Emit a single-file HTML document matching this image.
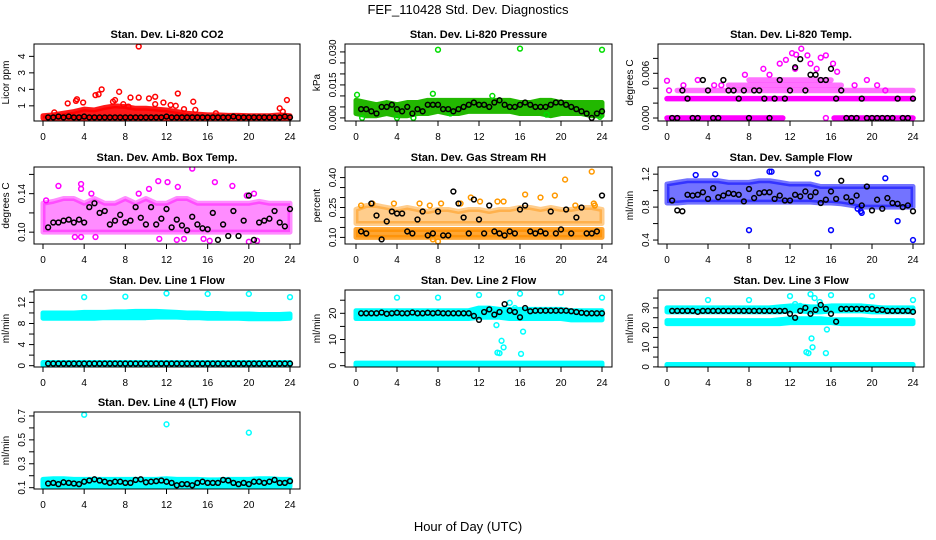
<!DOCTYPE html>
<html><head><meta charset="utf-8"><style>
html,body{margin:0;padding:0;background:#fff}
svg{display:block;font-family:"Liberation Sans",Arial,sans-serif}
</style></head><body>
<svg id="fig" width="936" height="540" viewBox="0 0 936 540">
<text x="468" y="14" text-anchor="middle" font-size="13">FEF_110428  Std. Dev. Diagnostics</text>
<text x="468" y="531" text-anchor="middle" font-size="13">Hour of Day (UTC)</text>
</svg>
<script>
// ---- shared categories ----
const xTicks = [0,4,8,12,16,20,24];
const hourGrid = [0,1,2,3,4,5,6,7,8,9,10,11,12,13,14,15,16,17,18,19,20,21,22,23,24];
const blackHours = [0.5,1,1.5,2,2.5,3,3.5,4,4.5,5,5.5,6,6.5,7,7.5,8,8.5,9,9.5,10,10.5,11,11.5,12,12.5,13,13.5,14,14.5,15,15.5,16,16.5,17,17.5,18,18.5,19,19.5,20,20.5,21,21.5,22,22.5,23,23.5,24];

// ---- P1 CO2 ----
const co2BandLo = [0.25,0.25,0.25,0.25,0.25,0.25,0.25,0.25,0.25,0.25,0.25,0.25,0.25,0.25,0.25,0.25,0.25,0.25,0.25,0.25,0.25,0.25,0.25,0.25,0.25];
const co2BandHi = [0.4,0.45,0.55,0.65,0.8,0.75,0.9,1.0,0.95,0.85,0.85,0.8,0.75,0.65,0.55,0.5,0.45,0.45,0.42,0.42,0.4,0.4,0.4,0.45,0.4];
const co2OutX = [2.4,3.3,3.2,3.9,5.1,5.4,5.7,6.8,7.0,7.4,7.8,8.3,8.5,9.3,9.3,10.3,10.9,10.9,11.7,12.4,13.1,13.7,14.6,14.8,16.8,23.0,23.7,23.3,1.1,12.9];
const co2OutY = [1.15,1.4,1.3,1.2,1.65,1.7,2.0,1.25,1.35,1.85,1.1,0.95,1.5,1.5,4.6,1.45,1.55,1.1,1.2,1.05,1.75,0.8,1.25,0.75,0.55,0.85,1.35,0.65,0.6,1.0];
const co2Black = [0.3,0.3,0.35,0.3,0.35,0.3,0.3,0.35,0.3,0.3,0.3,0.3,0.3,0.3,0.3,0.3,0.3,0.3,0.3,0.3,0.3,0.3,0.3,0.35,0.3,0.3,0.3,0.3,0.3,0.3,0.3,0.3,0.3,0.3,0.3,0.3,0.35,0.3,0.3,0.3,0.3,0.3,0.3,0.3,0.3,0.3,0.35,0.3];
const co2YTicks = [1,2,3,4];
const co2YLabels = ["1","2","3","4"];

// ---- P2 Pressure ----
const presBandLo = [0.002,0.001,0.001,0.002,0.001,0.001,0.002,0.002,0.003,0.002,0.002,0.003,0.003,0.003,0.003,0.003,0.002,0.002,0.002,0.001,0.002,0.002,0.002,0.001,0.001];
const presBandHi = [0.008,0.007,0.006,0.007,0.006,0.007,0.007,0.008,0.008,0.008,0.008,0.008,0.008,0.008,0.008,0.008,0.007,0.007,0.008,0.008,0.007,0.007,0.007,0.007,0.007];
const presOutX = [8,16,24,0.1,7.5,4,5.6,0.6,23.8,13.3,9.2,18.6];
const presOutY = [0.031,0.0315,0.031,0.0105,0.011,0.0,0.0,0.0,0.0005,0.010,0.002,0.0015];
const presBlack = [0.004,0.004,0.003,0.002,0.005,0.005,0.006,0.004,0.003,0.005,0.002,0.004,0.003,0.006,0.006,0.006,0.004,0.004,0.003,0.004,0.005,0.006,0.007,0.006,0.006,0.005,0.007,0.008,0.006,0.005,0.005,0.006,0.007,0.006,0.005,0.005,0.005,0.006,0.007,0.007,0.006,0.005,0.004,0.003,0.002,0.0,0.002,0.003];
const presYTicks = [0,0.005,0.010,0.015,0.020,0.025,0.030];
const presYLabels = ["0.000","","","0.015","","","0.030"];

// ---- P3 Li-820 Temp ----
const tempSegX0 = [0,16.3,0,1,6,8];
const tempSegX1 = [11.3,24,24,24,17,16];
const tempSegY = [0,0,0.0026,0.0037,0.0044,0.0051];
const tempOutX = [0,0.2,1.6,3.0,4.6,5.3,7.6,9.4,10.0,11.0,11.6,12.2,12.6,13.1,13.7,14.0,15.0,15.5,16.2,16.6,18.3,19.5,20.5,21.3,15.5,12.5,14.6];
const tempOutY = [0.005,0.0037,0.0044,0.0051,0.0044,0.0044,0.0058,0.0066,0.0058,0.0073,0.0078,0.0087,0.0085,0.0093,0.0084,0.0073,0.0081,0.0084,0.0073,0.0062,0.0044,0.0051,0.0044,0.0037,0.0,0.0066,0.0066];
const tempBlack = [0,0,0.0037,0.0026,0,0,0.0051,0.0037,0,0,0.0051,0.0037,0.0037,0.0026,0.0037,0,0.0037,0.0037,0.0026,0,0.0026,0.0051,0.0026,0.0037,0.0068,0.0079,0.0037,0.0058,0.0058,0.0051,0.0051,0.0066,0.0026,0.0037,0,0,0,0.0026,0,0,0,0,0,0,0.0026,0,0,0.0026];
const tempYTicks = [0,0.002,0.004,0.006,0.008];
const tempYLabels = ["0.000","","","0.006",""];

// ---- P4 Amb Box Temp ----
const ambBandLo = [0.10,0.10,0.10,0.10,0.10,0.10,0.10,0.10,0.10,0.10,0.10,0.10,0.10,0.10,0.10,0.10,0.10,0.10,0.10,0.10,0.10,0.10,0.10,0.10,0.10];
const ambBandHi = [0.13,0.132,0.135,0.135,0.13,0.135,0.13,0.13,0.135,0.13,0.135,0.13,0.13,0.135,0.135,0.13,0.13,0.13,0.13,0.13,0.13,0.132,0.13,0.13,0.13];
const ambOutX = [1.5,3.7,3.7,10.3,11.2,12.1,13.1,14.5,16.7,18.4,20.5,3.1,3.7,5.1,11.3,13.0,13.7,15.6,16.2,20.0,20.8,0.3,9.3,4.7,19.8];
const ambOutY = [0.148,0.15,0.145,0.145,0.153,0.152,0.147,0.166,0.152,0.148,0.14,0.095,0.095,0.095,0.093,0.092,0.093,0.093,0.091,0.09,0.091,0.133,0.14,0.14,0.138];
const ambBlack = [0.105,0.11,0.11,0.112,0.113,0.11,0.113,0.11,0.126,0.13,0.12,0.122,0.108,0.112,0.118,0.11,0.112,0.126,0.115,0.108,0.126,0.108,0.114,0.124,0.105,0.113,0.107,0.102,0.116,0.108,0.104,0.103,0.12,0.092,0.108,0.096,0.122,0.096,0.112,0.138,0.092,0.11,0.112,0.114,0.122,0.11,0.106,0.124];
const ambYTicks = [0.10,0.12,0.14,0.16];
const ambYLabels = ["0.10","","0.14",""];

// ---- P5 Gas Stream RH ----
const rhBandLo = [0.10,0.10,0.10,0.10,0.10,0.10,0.10,0.10,0.10,0.10,0.10,0.10,0.10,0.10,0.10,0.10,0.10,0.10,0.10,0.10,0.10,0.10,0.10,0.10,0.10];
const rhBandHi = [0.14,0.14,0.14,0.14,0.14,0.14,0.14,0.14,0.14,0.14,0.14,0.14,0.14,0.14,0.14,0.14,0.14,0.14,0.14,0.14,0.14,0.14,0.14,0.14,0.14];
const rhBand2Lo = [0.17,0.17,0.17,0.17,0.17,0.17,0.17,0.17,0.17,0.17,0.17,0.17,0.17,0.17,0.17,0.17,0.17,0.17,0.17,0.17,0.17,0.17,0.17,0.17,0.17];
const rhBand2Hi = [0.24,0.26,0.26,0.25,0.24,0.25,0.24,0.23,0.24,0.24,0.23,0.24,0.24,0.23,0.24,0.24,0.25,0.25,0.24,0.25,0.24,0.24,0.25,0.25,0.24];
const rhOutX = [0.5,1.6,3.7,6.2,7.2,8.3,10.2,14.4,16.5,18.0,19.4,20.4,21.4,23.0,23.2,23.3,12.1,13.8,11.2,7.5,8.0];
const rhOutY = [0.26,0.27,0.27,0.27,0.26,0.27,0.27,0.28,0.315,0.30,0.31,0.39,0.26,0.43,0.27,0.26,0.28,0.28,0.30,0.09,0.08];
const rhBlack = [0.13,0.12,0.27,0.21,0.09,0.18,0.23,0.22,0.22,0.13,0.12,0.19,0.23,0.11,0.12,0.23,0.11,0.11,0.33,0.27,0.20,0.12,0.29,0.19,0.12,0.26,0.13,0.12,0.11,0.13,0.12,0.24,0.26,0.13,0.12,0.13,0.12,0.23,0.12,0.14,0.24,0.12,0.20,0.25,0.12,0.12,0.13,0.31];
const rhYTicks = [0.10,0.15,0.20,0.25,0.30,0.35,0.40];
const rhYLabels = ["0.10","","","0.25","","","0.40"];

// ---- P6 Sample Flow ----
const sfBandLo = [0.85,0.85,0.86,0.86,0.86,0.86,0.86,0.86,0.86,0.86,0.86,0.86,0.86,0.86,0.86,0.85,0.85,0.84,0.82,0.8,0.8,0.8,0.8,0.8,0.8];
const sfBandHi = [1.08,1.1,1.12,1.12,1.12,1.12,1.1,1.1,1.1,1.12,1.12,1.1,1.08,1.08,1.08,1.05,1.05,1.05,1.05,1.05,1.05,1.05,1.05,1.05,1.05];
const sfOutX = [8,16,24,22.5,14.7,10.2,10,4.7,2.8,21.3,19.0,18.9,18.6];
const sfOutY = [0.52,0.52,0.4,0.63,1.21,1.23,1.23,1.2,1.19,1.15,0.73,0.75,0.78];
const sfBlack = [0.88,0.76,0.75,0.95,0.94,0.95,0.98,0.90,1.03,0.92,0.94,0.97,0.96,0.95,0.87,1.02,0.91,0.97,0.98,0.98,0.90,0.94,0.88,0.88,0.95,0.93,0.99,0.93,0.98,0.85,0.89,0.99,0.90,1.12,0.92,0.87,0.94,0.82,1.05,0.76,0.89,0.78,0.91,0.85,0.84,0.80,0.82,0.75];
const sfYTicks = [0.4,0.6,0.8,1.0,1.2];
const sfYLabels = ["0.4","","0.8","","1.2"];

// ---- P7 Line 1 Flow ----
const l1BandLo = [9.0,9.0,9.0,9.0,9.0,9.0,9.1,9.1,9.1,9.1,9.1,9.2,9.2,9.2,9.1,9.1,9.0,9.0,9.0,9.0,8.9,8.9,8.9,8.9,9.0];
const l1BandHi = [10.0,10.0,10.0,10.0,10.1,10.1,10.1,10.2,10.2,10.3,10.3,10.3,10.2,10.1,10.0,10.0,9.9,9.9,9.8,9.8,9.8,9.7,9.7,9.7,9.8];
const l1Band2Lo = [0.1,0.1,0.1,0.1,0.1,0.1,0.1,0.1,0.1,0.1,0.1,0.1,0.1,0.1,0.1,0.1,0.1,0.1,0.1,0.1,0.1,0.1,0.1,0.1,0.1];
const l1Band2Hi = [0.6,0.6,0.6,0.6,0.6,0.6,0.6,0.6,0.6,0.6,0.6,0.6,0.6,0.6,0.6,0.6,0.6,0.6,0.6,0.6,0.6,0.6,0.6,0.6,0.6];
const l1OutX = [4,8,12,16,20,24];
const l1OutY = [13,13.1,13.7,13.6,13.6,13];
const l1Black = [0.4,0.4,0.4,0.4,0.4,0.4,0.4,0.4,0.4,0.4,0.4,0.4,0.4,0.4,0.4,0.4,0.4,0.4,0.4,0.4,0.4,0.4,0.4,0.4,0.4,0.4,0.4,0.4,0.4,0.4,0.4,0.4,0.4,0.4,0.4,0.4,0.4,0.4,0.4,0.4,0.4,0.4,0.4,0.4,0.4,0.4,0.4,0.4];
const l1YTicks = [0,2,4,6,8,10,12,14];
const l1YLabels = ["0","","4","","8","","12",""];

// ---- P8 Line 2 Flow ----
const l2BandLo = [18,18,18,18,18,18,18,18,18,18,18,18,18.5,18.5,18.5,18,18,18,18,18,18,17.5,17.5,17.5,17.5];
const l2BandHi = [21,21,21,21,21,21,21,21,21,21,21,21,22,22,21.5,21.5,21.5,21.5,21.5,21.5,21.5,21,21,21,21];
const l2Band2Lo = [0,0,0,0,0,0,0,0,0,0,0,0,0,0,0,0,0,0,0,0,0,0,0,0,0];
const l2Band2Hi = [1,1,1,1,1,1,1,1,1,1,1,1,1,1,1,1,1,1,1,1,1,1,1,1,1];
const l2OutX = [4,8,12,16,20,24,13.7,13.8,14,14.2,14.4,15.0,16.3,16.1,14.9,13.5,15.5];
const l2OutY = [26,26,27,27.5,28,26,15.5,5,4.8,9.5,7,24,13,4.5,20,21,22];
const l2Black = [20,20,20,20,20.3,19.8,20,20.2,20,20,20.3,20,20,20.2,20,20.2,20,20,20,20,20,20,19,17.5,20.5,21.5,19.5,20.5,23.5,21,20.5,18.5,22,20.8,21,21,21,21,21,21,21,20.8,20.5,20.2,20,20,20,20];
const l2YTicks = [0,5,10,15,20,25];
const l2YLabels = ["0","","10","","20",""];

// ---- P9 Line 3 Flow ----
const l3BandLo = [28,28,28,28,28,28,28,28,28,28,28,28,28.5,28.5,28,28,28.5,28.5,28.5,28.5,28,28,28,28,28];
const l3BandHi = [30,30,30,30,30,30,30,30,30,30,30,30.5,31,31,30.5,30.5,31,31,31,31,30.5,30,30,30,30];
const l3Band2Lo = [22,22,22,22,22,22,22,22,22,22,22,22,22.5,22.5,22.5,22.5,22.5,22,22,22,22,22,22,22,22];
const l3Band2Hi = [23.5,23.5,23.5,23.5,23.5,23.5,23.5,23.5,23.5,23.5,23.5,24,24.5,24.5,24.5,24.5,24,24,24,24,23.5,23.5,23.5,23.5,23.5];
const l3Band3Lo = [0,0,0,0,0,0,0,0,0,0,0,0,0,0,0,0,0,0,0,0,0,0,0,0,0];
const l3Band3Hi = [1.2,1.2,1.2,1.2,1.2,1.2,1.2,1.2,1.2,1.2,1.2,1.2,1.2,1.2,1.2,1.2,1.2,1.2,1.2,1.2,1.2,1.2,1.2,1.2,1.2];
const l3OutX = [4,8,12,16,20,24,13.6,13.8,14.1,14.2,15.5,15.6,14.0,14.4,14.9,12.5,13.0];
const l3OutY = [34,34,36,36.5,36,34,7.5,7,14.5,10,7,19,37,35,33,32,31];
const l3Black = [28.5,28.5,28.5,28.5,28.5,28,28.5,28.5,28.5,28.5,28.5,28.5,28.5,28.5,28.5,28.5,28.5,28.5,28.5,28.5,28.5,28.5,28.5,27,25,28.5,30,27,29,31.5,29.5,27,23,29.5,29.5,29.5,29.5,29.5,29.5,29.5,29,29,28.5,28.5,28.5,28.5,28.5,28];
const l3YTicks = [0,5,10,15,20,25,30,35];
const l3YLabels = ["0","","10","","20","","30",""];

// ---- P10 Line 4 (LT) Flow ----
const l4BandLo = [0.11,0.11,0.11,0.11,0.11,0.11,0.11,0.11,0.11,0.11,0.11,0.11,0.11,0.11,0.11,0.11,0.11,0.11,0.11,0.11,0.11,0.11,0.11,0.11,0.11];
const l4BandHi = [0.17,0.175,0.175,0.17,0.17,0.17,0.17,0.17,0.17,0.17,0.17,0.17,0.175,0.17,0.17,0.17,0.165,0.165,0.17,0.17,0.17,0.175,0.175,0.17,0.17];
const l4OutX = [4,12,20];
const l4OutY = [0.71,0.63,0.56];
const l4Black = [0.135,0.14,0.13,0.145,0.14,0.135,0.13,0.15,0.16,0.17,0.16,0.15,0.14,0.15,0.15,0.14,0.14,0.165,0.17,0.145,0.15,0.155,0.16,0.15,0.14,0.12,0.13,0.13,0.12,0.14,0.15,0.14,0.14,0.14,0.165,0.16,0.14,0.13,0.14,0.13,0.15,0.15,0.14,0.15,0.165,0.14,0.14,0.155];
const l4YTicks = [0.1,0.2,0.3,0.4,0.5,0.6,0.7];
const l4YLabels = ["0.1","","0.3","","0.5","","0.7"];

// ---- layout (not data) ----
const NS = "http://www.w3.org/2000/svg";
const svg = document.getElementById('fig');
const cols = [{L:34,R:300,x0:43,x1:290},{L:345,R:612,x0:356,x1:602},{L:658,R:924,x0:667,x1:913}];
const rowsTop = [44,167,290,412];
const H = 77;

const panels = [
 {key:'co2',title:'Stan. Dev. Li-820 CO2',ylab:'Licor ppm',c:0,r:0,ylo:0.08,yhi:4.75,color:'#ff0000',bandColor:'#ff0000',
  bands:[[co2BandLo,co2BandHi,0.9]],outX:co2OutX,outY:co2OutY,black:co2Black,yt:co2YTicks,yl:co2YLabels},
 {key:'pres',title:'Stan. Dev. Li-820 Pressure',ylab:'kPa',c:1,r:0,ylo:-0.0014,yhi:0.0336,color:'#00dd00',bandColor:'#22b800',
  bands:[[presBandLo,presBandHi,1]],outX:presOutX,outY:presOutY,black:presBlack,yt:presYTicks,yl:presYLabels},
 {key:'temp',title:'Stan. Dev. Li-820 Temp.',ylab:'degrees C',c:2,r:0,ylo:-0.0004,yhi:0.00993,color:'#ff00ff',bandColor:'#ff00ff',
  bands:[],segs:true,outX:tempOutX,outY:tempOutY,black:tempBlack,yt:tempYTicks,yl:tempYLabels},
 {key:'amb',title:'Stan. Dev. Amb. Box Temp.',ylab:'degrees C',c:0,r:1,ylo:0.0877,yhi:0.1677,color:'#ff00ff',bandColor:'#ff00ff',
  bands:[[ambBandLo,ambBandHi,0.45]],outX:ambOutX,outY:ambOutY,black:ambBlack,yt:ambYTicks,yl:ambYLabels},
 {key:'rh',title:'Stan. Dev. Gas Stream RH',ylab:'percent',c:1,r:1,ylo:0.067,yhi:0.453,color:'#ff9900',bandColor:'#ff9000',
  bands:[[rhBandLo,rhBandHi,0.8],[rhBand2Lo,rhBand2Hi,0.45]],outX:rhOutX,outY:rhOutY,black:rhBlack,yt:rhYTicks,yl:rhYLabels},
 {key:'sf',title:'Stan. Dev. Sample Flow',ylab:'ml/min',c:2,r:1,ylo:0.352,yhi:1.287,color:'#0000ff',bandColor:'#0000ff',
  bands:[[sfBandLo,sfBandHi,0.55]],outX:sfOutX,outY:sfOutY,black:sfBlack,yt:sfYTicks,yl:sfYLabels},
 {key:'l1',title:'Stan. Dev. Line 1 Flow',ylab:'ml/min',c:0,r:2,ylo:-0.25,yhi:14.35,color:'#00ffff',bandColor:'#00ffff',
  bands:[[l1BandLo,l1BandHi,1],[l1Band2Lo,l1Band2Hi,1]],outX:l1OutX,outY:l1OutY,black:l1Black,yt:l1YTicks,yl:l1YLabels},
 {key:'l2',title:'Stan. Dev. Line 2 Flow',ylab:'ml/min',c:1,r:2,ylo:-0.5,yhi:28.9,color:'#00ffff',bandColor:'#00ffff',
  bands:[[l2BandLo,l2BandHi,1],[l2Band2Lo,l2Band2Hi,1]],outX:l2OutX,outY:l2OutY,black:l2Black,yt:l2YTicks,yl:l2YLabels},
 {key:'l3',title:'Stan. Dev. Line 3 Flow',ylab:'ml/min',c:2,r:2,ylo:-0.05,yhi:39.1,color:'#00ffff',bandColor:'#00ffff',
  bands:[[l3BandLo,l3BandHi,1],[l3Band2Lo,l3Band2Hi,1],[l3Band3Lo,l3Band3Hi,1]],outX:l3OutX,outY:l3OutY,black:l3Black,yt:l3YTicks,yl:l3YLabels},
 {key:'l4',title:'Stan. Dev. Line 4 (LT) Flow',ylab:'ml/min',c:0,r:3,ylo:0.089,yhi:0.733,color:'#00ffff',bandColor:'#00ffff',
  bands:[[l4BandLo,l4BandHi,1]],outX:l4OutX,outY:l4OutY,black:l4Black,yt:l4YTicks,yl:l4YLabels}
];

function mk(tag, attrs, parent){
  const e = document.createElementNS(NS, tag);
  for (const k in attrs) e.setAttribute(k, attrs[k]);
  (parent||svg).appendChild(e);
  return e;
}

panels.forEach(p => {
  const col = cols[p.c];
  const top = rowsTop[p.r], bot = top + H;
  const xs = v => col.x0 + (v/24)*(col.x1-col.x0);
  const ys = v => bot - (v - p.ylo)/(p.yhi - p.ylo)*H;
  const g = mk('g', {});
  
  

  const clipId = 'clip-' + p.key;
  const cp = mk('clipPath', {id: clipId}, g);
  mk('rect', {x: col.L, y: top, width: col.R-col.L, height: H}, cp);
  const plot = mk('g', {'clip-path': 'url(#' + clipId + ')'}, g);

  p.bands.forEach((b, bi) => {
    const lo = b[0], hi = b[1];
    let pts = hourGrid.map((h,i) => xs(h)+','+ys(hi[i]));
    pts = pts.concat(hourGrid.slice().reverse().map((h,j) => { const i = hourGrid.length-1-j; return xs(h)+','+ys(lo[i]); }));
    const poly = mk('polygon', {points: pts.join(' '), fill: p.bandColor, stroke: p.bandColor, 'stroke-width': 5, 'stroke-linejoin': 'round', 'fill-opacity': b[2], 'stroke-opacity': b[2]}, plot);
    
    
  });
  if (p.segs) {
    tempSegY.forEach((yv, i) => {
      const ln = mk('line', {x1: xs(tempSegX0[i]), x2: xs(tempSegX1[i]), y1: ys(yv), y2: ys(yv), stroke: p.color, 'stroke-width': 5.5, 'stroke-linecap': 'round', 'stroke-opacity': i >= 3 ? 0.55 : 1}, plot);
      
      
    });
  }
  p.outX.forEach((xv, i) => {
    const c = mk('circle', {cx: xs(xv), cy: ys(p.outY[i]), r: 2.4, fill: 'none', stroke: p.color, 'stroke-width': 1.5}, plot);
    
    
  });
  blackHours.forEach((h, i) => {
    const c = mk('circle', {cx: xs(h), cy: ys(p.black[i]), r: 2.4, fill: 'none', stroke: '#000', 'stroke-width': 1.5}, plot);
    
    
  });

  const box = mk('rect', {x: col.L, y: top, width: col.R-col.L, height: H, fill: 'none', stroke: '#000', 'stroke-width': 1}, g);
  
  

  const t = mk('text', {x: (col.L+col.R)/2, y: top-6, 'text-anchor': 'middle', 'font-size': 11, 'font-weight': 'bold'}, g);
  t.textContent = p.title;
  
  

  const xa = mk('g', {}, g);
  
  
  xTicks.forEach(v => {
    mk('line', {x1: xs(v), x2: xs(v), y1: bot, y2: bot+5, stroke: '#000'}, xa);
    const tl = mk('text', {x: xs(v), y: bot+19, 'text-anchor': 'middle', 'font-size': 10}, xa);
    tl.textContent = String(v);
  });

  const ya = mk('g', {}, g);
  
  
  mk('line', {x1: col.L, x2: col.L, y1: ys(p.yt[0]), y2: ys(p.yt[p.yt.length-1]), stroke: '#000'}, ya);
  p.yt.forEach((v, i) => {
    mk('line', {x1: col.L-5, x2: col.L, y1: ys(v), y2: ys(v), stroke: '#000'}, ya);
    if (p.yl[i]) {
      const tx = col.L - 9, ty = ys(v);
      const tl = mk('text', {x: tx, y: ty, 'text-anchor': 'middle', 'font-size': 10, transform: 'rotate(-90 ' + tx + ' ' + ty + ')'}, ya);
      tl.textContent = p.yl[i];
    }
  });
  const yt = col.L - 25, ymid = (top+bot)/2;
  const ylab = mk('text', {x: yt, y: ymid, 'text-anchor': 'middle', 'font-size': 10, transform: 'rotate(-90 ' + yt + ' ' + ymid + ')'}, g);
  ylab.textContent = p.ylab;
  
  
});
</script>
</body></html>
